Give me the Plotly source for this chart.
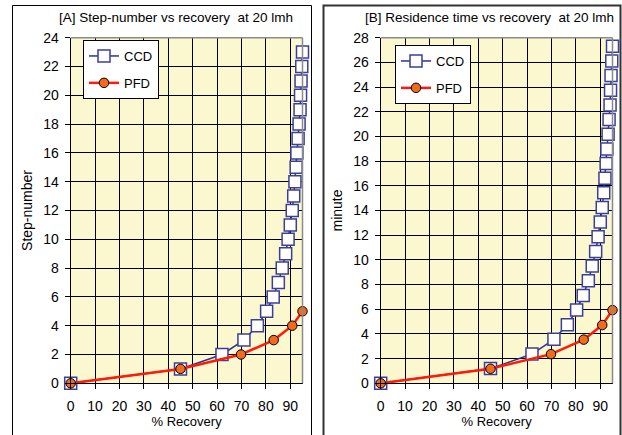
import plotly.graph_objects as go

# ---- data ----
ccd_recovery = [0, 45, 62, 71, 76.5, 80.3, 83, 85.1, 86.7, 88.1, 89.1, 90, 90.8, 91.4,
                91.9, 92.4, 92.7, 93.2, 93.6, 94.0, 94.2, 94.4, 94.7, 95.0]
ccd_steps = [0, 1, 2, 3, 4, 5, 6, 7, 8, 9, 10, 11, 12, 13, 14, 15, 16, 17, 18, 19, 20, 21, 22, 23]
ccd_minutes = [0, 1.19, 2.37, 3.56, 4.75, 5.93, 7.12, 8.31, 9.50, 10.68, 11.87, 13.06, 14.24,
               15.43, 16.62, 17.80, 18.99, 20.18, 21.37, 22.55, 23.74, 24.93, 26.11, 27.30]

pfd_recovery = [0, 45, 69.8, 83.2, 90.8, 95.0]
pfd_steps = [0, 1, 2, 3, 4, 5]
pfd_minutes = [0, 1.18, 2.36, 3.54, 4.72, 5.93]

titles = ["[A] Step-number vs recovery  at 20 lmh", "[B] Residence time vs recovery  at 20 lmh"]
y_titles = ["Step-number", "minute"]
y_max = [24, 28]

FONT = "Liberation Sans, Arial, sans-serif"
W, H = 622, 435
BG = "#FBF8D0"

fig = go.Figure()

ccd_style = dict(mode="lines+markers",
                 line=dict(color="#2E3192", width=1.5),
                 marker=dict(symbol="square", size=12, color="white",
                             line=dict(color="#3B3F99", width=1.5)),
                 cliponaxis=False)
pfd_style = dict(mode="lines+markers",
                 line=dict(color="#FF1A0A", width=2.5),
                 marker=dict(symbol="circle", size=9.5, color="#F26A1B",
                             line=dict(color="black", width=1)),
                 cliponaxis=False)

series = [(ccd_steps, pfd_steps), (ccd_minutes, pfd_minutes)]
for i, (cy, py) in enumerate(series):
    xa = "x" if i == 0 else "x2"
    ya = "y" if i == 0 else "y2"
    lg = "legend" if i == 0 else "legend2"
    fig.add_trace(go.Scatter(x=ccd_recovery, y=cy, name="CCD", xaxis=xa, yaxis=ya,
                             legend=lg, legendgroup="a%d" % i, **ccd_style))
    fig.add_trace(go.Scatter(x=pfd_recovery, y=py, name="PFD", xaxis=xa, yaxis=ya,
                             legend=lg, legendgroup="b%d" % i, **pfd_style))

px_x = lambda v: v / W
px_y = lambda v: 1 - v / H

xdoms = [[px_x(70.7), px_x(302.5)], [px_x(380.7), px_x(612.5)]]
ydom = [px_y(383.3), px_y(37.7)]
title_cx = [176, 489]

axis_common = dict(showgrid=True, gridcolor="black", gridwidth=1,
                   showline=True, linecolor="black", linewidth=1,
                   ticks="outside", ticklen=5, tickcolor="black",
                   tickfont=dict(family=FONT, size=14, color="black"),
                   zeroline=False, mirror=False, automargin=False)

for i in range(2):
    sfx = "" if i == 0 else "2"
    fig.update_layout(**{
        "xaxis" + sfx: dict(domain=xdoms[i], range=[0, 95], dtick=10, tick0=0,
                            anchor="y" + sfx,
                            title=dict(text="% Recovery", font=dict(family=FONT, size=13, color="black"),
                                       standoff=3),
                            ticklabelstandoff=5, **axis_common),
        "yaxis" + sfx: dict(domain=ydom, range=[0, y_max[i]], dtick=2, tick0=0,
                            anchor="x" + sfx,
                            title=dict(text=y_titles[i], font=dict(family=FONT, size=14, color="black"),
                                       standoff=7),
                            ticklabelstandoff=3,
                            **axis_common),
    })
    xref = "x%s domain" % sfx
    yref = "y%s domain" % sfx
    # gray top and right plot border
    fig.add_shape(type="line", xref=xref, yref=yref, x0=0, x1=1, y0=1, y1=1,
                  line=dict(color="#8A8A8A", width=1.5))
    fig.add_shape(type="line", xref=xref, yref=yref, x0=1, x1=1, y0=0, y1=1,
                  line=dict(color="#8A8A8A", width=1.5))
    # panel title
    fig.add_annotation(text=titles[i], xref="paper", yref="paper", x=px_x(title_cx[i]), y=px_y(18),
                       showarrow=False, xanchor="center", yanchor="middle",
                       font=dict(family=FONT, size=13.5, color="black"))

# panel borders
fig.add_shape(type="rect", xref="paper", yref="paper", x0=px_x(12.5), x1=px_x(311.5),
              y0=px_y(445), y1=px_y(5.5), line=dict(color="black", width=1), layer="below")
fig.add_shape(type="rect", xref="paper", yref="paper", x0=px_x(323.5), x1=px_x(620.5),
              y0=px_y(445), y1=px_y(5.5), line=dict(color="#333333", width=2), layer="below")

legend_common = dict(bgcolor="white", bordercolor="black", borderwidth=1,
                     font=dict(family=FONT, size=13, color="black"),
                     tracegroupgap=7, xanchor="left", yanchor="top",
                     itemwidth=30)
fig.update_layout(
    legend=dict(x=px_x(83), y=px_y(40), **legend_common),
    legend2=dict(x=px_x(395), y=px_y(45), **legend_common),
    width=W, height=H,
    margin=dict(l=0, r=0, t=0, b=0),
    paper_bgcolor="white",
    plot_bgcolor=BG,
    showlegend=True,
)

fig.write_html("out.html", config={"displayModeBar": False},
               post_script="document.body.style.margin='0';")
